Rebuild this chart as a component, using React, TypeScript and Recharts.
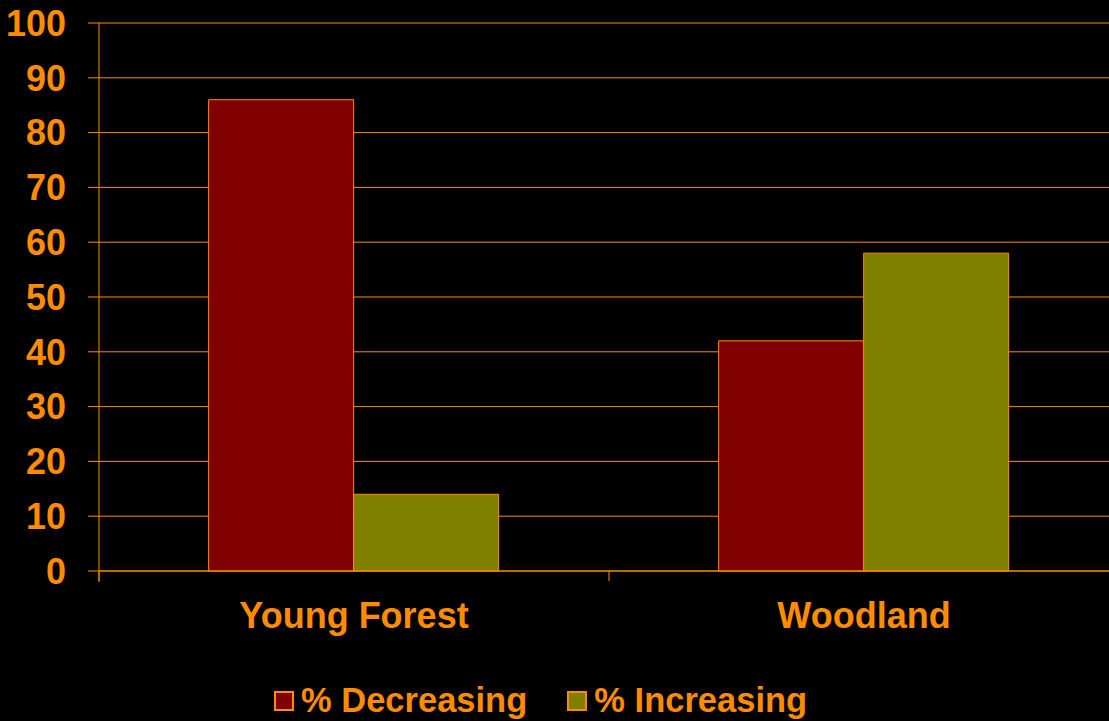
import { BarChart, Bar, XAxis, YAxis, CartesianGrid, Legend } from "recharts";

const categories = ["Young Forest", "Woodland"];
const decreasing = [86, 42];
const increasing = [14, 58];
const yTicks = [0, 10, 20, 30, 40, 50, 60, 70, 80, 90, 100];
const seriesNames = ["% Decreasing", "% Increasing"];

const ORANGE = "#FF8C00";
const FONT = "'Liberation Sans', Arial, sans-serif";
const LABEL_GAP = 31;

const data = categories.map((name, i) => ({
  name,
  dec: decreasing[i],
  inc: increasing[i],
}));

// category boundaries, where the slide puts its x tick marks
const edgeTicks = categories.map((_, i) => i).concat(categories.length);

// category label, plus a small tick mark at the left edge of its band
function CategoryTick({ x, y, payload }: any) {
  const half = payload && typeof payload.offset === "number" ? payload.offset : 0;
  const axisY = y - LABEL_GAP;
  return (
    <g>
      {half > 0 && (
        <line x1={x - half} x2={x - half} y1={axisY} y2={axisY + 10} stroke={ORANGE} />
      )}
      <text
        x={x}
        y={y}
        dy="0.71em"
        textAnchor="middle"
        fill={ORANGE}
        fontSize={36}
        fontWeight="bold"
        fontFamily={FONT}
      >
        {payload.value}
      </text>
    </g>
  );
}

function LegendContent({ payload }: any) {
  return (
    <div style={{ display: "flex", alignItems: "center", fontFamily: FONT }}>
      {(payload || []).map((p: any, i: number) => (
        <div
          key={p.value}
          style={{ display: "flex", alignItems: "center", marginRight: i === 0 ? 40 : 0 }}
        >
          <span
            style={{
              display: "inline-block",
              width: 16,
              height: 16,
              background: p.color,
              border: `2px solid ${ORANGE}`,
              marginRight: 7,
            }}
          />
          <span style={{ color: ORANGE, fontSize: 34.5, fontWeight: "bold" }}>{p.value}</span>
        </div>
      ))}
    </div>
  );
}

export default function App() {
  return (
    <div
      style={{
        position: "absolute",
        left: 0,
        top: 0,
        width: 1109,
        height: 721,
        overflow: "hidden",
        background: "#000",
      }}
    >
      {/* plot runs past the right edge, as in the source slide */}
      <BarChart
        width={1119}
        height={721}
        data={data}
        margin={{ top: 23, right: 0, bottom: 148, left: 0 }}
        barGap={0}
        barCategoryGap="21.5%"
      >
        <CartesianGrid vertical={false} stroke={ORANGE} strokeWidth={1} />
        <XAxis
          dataKey="name"
          height={1}
          axisLine={{ stroke: ORANGE }}
          tickLine={false}
          tickSize={0}
          tickMargin={LABEL_GAP}
          interval={0}
          tick={<CategoryTick />}
        />
        <XAxis
          xAxisId="edges"
          type="number"
          domain={[0, categories.length]}
          allowDataOverflow
          ticks={edgeTicks}
          interval={0}
          height={1}
          tick={() => <g />}
          axisLine={false}
          tickSize={10}
          tickLine={{ stroke: ORANGE }}
        />
        <YAxis
          width={99}
          domain={[0, 100]}
          ticks={yTicks}
          interval={0}
          axisLine={{ stroke: ORANGE }}
          tickLine={{ stroke: ORANGE }}
          tickSize={11}
          tickMargin={22}
          tick={{ fill: ORANGE, fontSize: 36, fontWeight: "bold", fontFamily: FONT }}
        />
        <Legend
          layout="horizontal"
          verticalAlign="middle"
          align="center"
          wrapperStyle={{ top: 681, left: 274, width: 800 }}
          content={<LegendContent />}
        />
        <Bar
          dataKey="dec"
          name={seriesNames[0]}
          fill="#800000"
          stroke={ORANGE}
          strokeWidth={1}
          isAnimationActive={false}
        />
        <Bar
          dataKey="inc"
          name={seriesNames[1]}
          fill="#808000"
          stroke={ORANGE}
          strokeWidth={1}
          isAnimationActive={false}
        />
      </BarChart>
    </div>
  );
}
